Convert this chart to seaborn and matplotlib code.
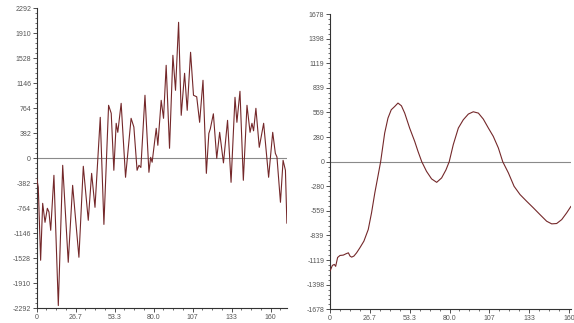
import numpy as np
import pandas as pd
import seaborn as sns
import matplotlib
matplotlib.use('Agg')
import matplotlib.pyplot as plt
from matplotlib.ticker import FixedLocator, AutoMinorLocator

# left panel: noisy signal
left_x = [0, 1.1, 2.7, 4.1, 5.7, 7.3, 8.4, 9.6, 11.8, 14.8,
          17.8, 21.6, 24.6, 28.9, 31.9, 35.3, 37.6, 39.9, 43.5, 46.0,
          49.2, 51.0, 52.8, 54.4, 55.5, 57.8, 60.8, 64.6, 66.5, 68.7,
          70.0, 71.3, 74.1, 76.8, 78.0, 79.0, 81.8, 82.9, 85.2, 86.8,
          88.6, 90.9, 93.2, 95.0, 97.1, 98.9, 101.2, 103.0, 105.3, 107.3,
          109.5, 111.5, 113.8, 116.1, 117.8, 118.8, 120.9, 123.2, 125.2, 127.8,
          130.6, 133.0, 135.7, 137.0, 139.1, 141.4, 143.9, 146.0, 147.3, 148.4,
          150.0, 152.3, 155.3, 158.7, 161.5, 163.3, 164.4, 166.8, 168.6, 170.2,
          171.2]
left_y = [-306, -443, -1558, -688, -978, -764, -820, -1100, -260, -2250,
          -107, -1589, -413, -1512, -122, -947, -230, -749, 626, -1010,
          810, 688, -183, 535, 397, 840, -290, 611, 478, -183,
          -107, -140, 963, -214, 15, -60, 458, 199, 886, 611,
          1421, 153, 1574, 1039, 2078, 657, 1299, 733, 1620, 963,
          940, 550, 1192, -230, 380, 450, 680, 0, 397, -70,
          580, -367, 932, 550, 1024, -336, 810, 397, 535, 420,
          764, 168, 535, -290, 397, 76, 20, -672, -31, -183,
          -993]

# right panel: smooth signal
right_x = [0, 1.6, 2.9, 3.8, 5.1, 6.7, 8.9, 10.7, 12.3, 13.4,
           14.5, 16.0, 17.8, 20.0, 22.7, 25.6, 27.8, 30.0, 32.3, 33.9,
           36.6, 38.8, 41.0, 43.3, 45.5, 47.8, 50.0, 53.3, 56.7, 58.9,
           61.4, 64.6, 68.0, 71.4, 74.7, 77.6, 79.8, 82.5, 85.9, 89.2,
           92.6, 95.9, 99.3, 102.6, 106.0, 109.3, 112.7, 115.6, 119.4, 123.2,
           127.2, 131.6, 136.1, 140.5, 145.0, 148.4, 151.7, 155.1, 158.4, 161.3]
right_y = [-1244, -1179, -1168, -1190, -1089, -1066, -1062, -1047, -1036, -1073,
           -1085, -1073, -1036, -979, -903, -771, -582, -355, -147, 0,
           325, 495, 590, 627, 666, 635, 552, 382, 230, 117,
           0, -110, -196, -235, -185, -94, 0, 193, 382, 476,
           541, 567, 552, 484, 382, 287, 155, 0, -128, -280,
           -374, -450, -525, -601, -677, -707, -703, -658, -582, -507]

x_tick_labels = ['0', '26.7', '53.3', '80.0', '107', '133', '160']
left_y_labels = ['-2292', '-1910', '-1528', '-1146', '-764', '-382', '0',
                 '382', '764', '1146', '1528', '1910', '2292']
right_y_labels = ['-1678', '-1398', '-1119', '-839', '-559', '-280', '0',
                  '280', '559', '839', '1119', '1398', '1678']
left_ymax = 2292
right_ymax = 1678
x_tick_max = 160

line_color = '#74282a'
tick_color = '#555555'

sns.set_style('white')
plt.rcParams['font.family'] = ['Liberation Sans', 'DejaVu Sans']

fig = plt.figure(figsize=(5.74, 3.23), dpi=100)
ax1 = fig.add_axes([0.0639, 0.0455, 0.4359, 0.9288])
ax2 = fig.add_axes([0.5749, 0.0424, 0.4204, 0.9142])

panels = [
    (ax1, left_x, left_y, left_ymax, left_y_labels, 171.2),
    (ax2, right_x, right_y, right_ymax, right_y_labels, 161.5),
]

for ax, xs, ys, ymax, ylabels, xend in panels:
    df = pd.DataFrame({'x': xs, 'y': ys})
    ax.axhline(0, color='#8a8a8a', lw=0.8, zorder=1)
    sns.lineplot(data=df, x='x', y='y', ax=ax, color=line_color,
                 linewidth=0.8, sort=False, estimator=None, zorder=3)
    ax.set_xlim(0, xend)
    ax.set_ylim(-ymax, ymax)
    ax.xaxis.set_major_locator(FixedLocator(np.linspace(0, x_tick_max, 7)))
    ax.set_xticklabels(x_tick_labels)
    ax.yaxis.set_major_locator(FixedLocator(np.linspace(-ymax, ymax, 13)))
    ax.set_yticklabels(ylabels)
    ax.xaxis.set_minor_locator(AutoMinorLocator(4))
    ax.yaxis.set_minor_locator(AutoMinorLocator(5))
    ax.set_xlabel('')
    ax.set_ylabel('')
    for side in ['top', 'right']:
        ax.spines[side].set_visible(False)
    for side in ['left', 'bottom']:
        ax.spines[side].set_color('#333333')
        ax.spines[side].set_linewidth(0.8)
    ax.tick_params(which='major', direction='out', length=3, width=0.6,
                   color='#333333', labelsize=5, labelcolor=tick_color, pad=1,
                   left=True, bottom=True)
    ax.tick_params(which='minor', direction='out', length=1.5, width=0.5,
                   color='#333333', left=True, bottom=True)
    ax.set_facecolor('white')

fig.savefig('out.png', dpi=100)
